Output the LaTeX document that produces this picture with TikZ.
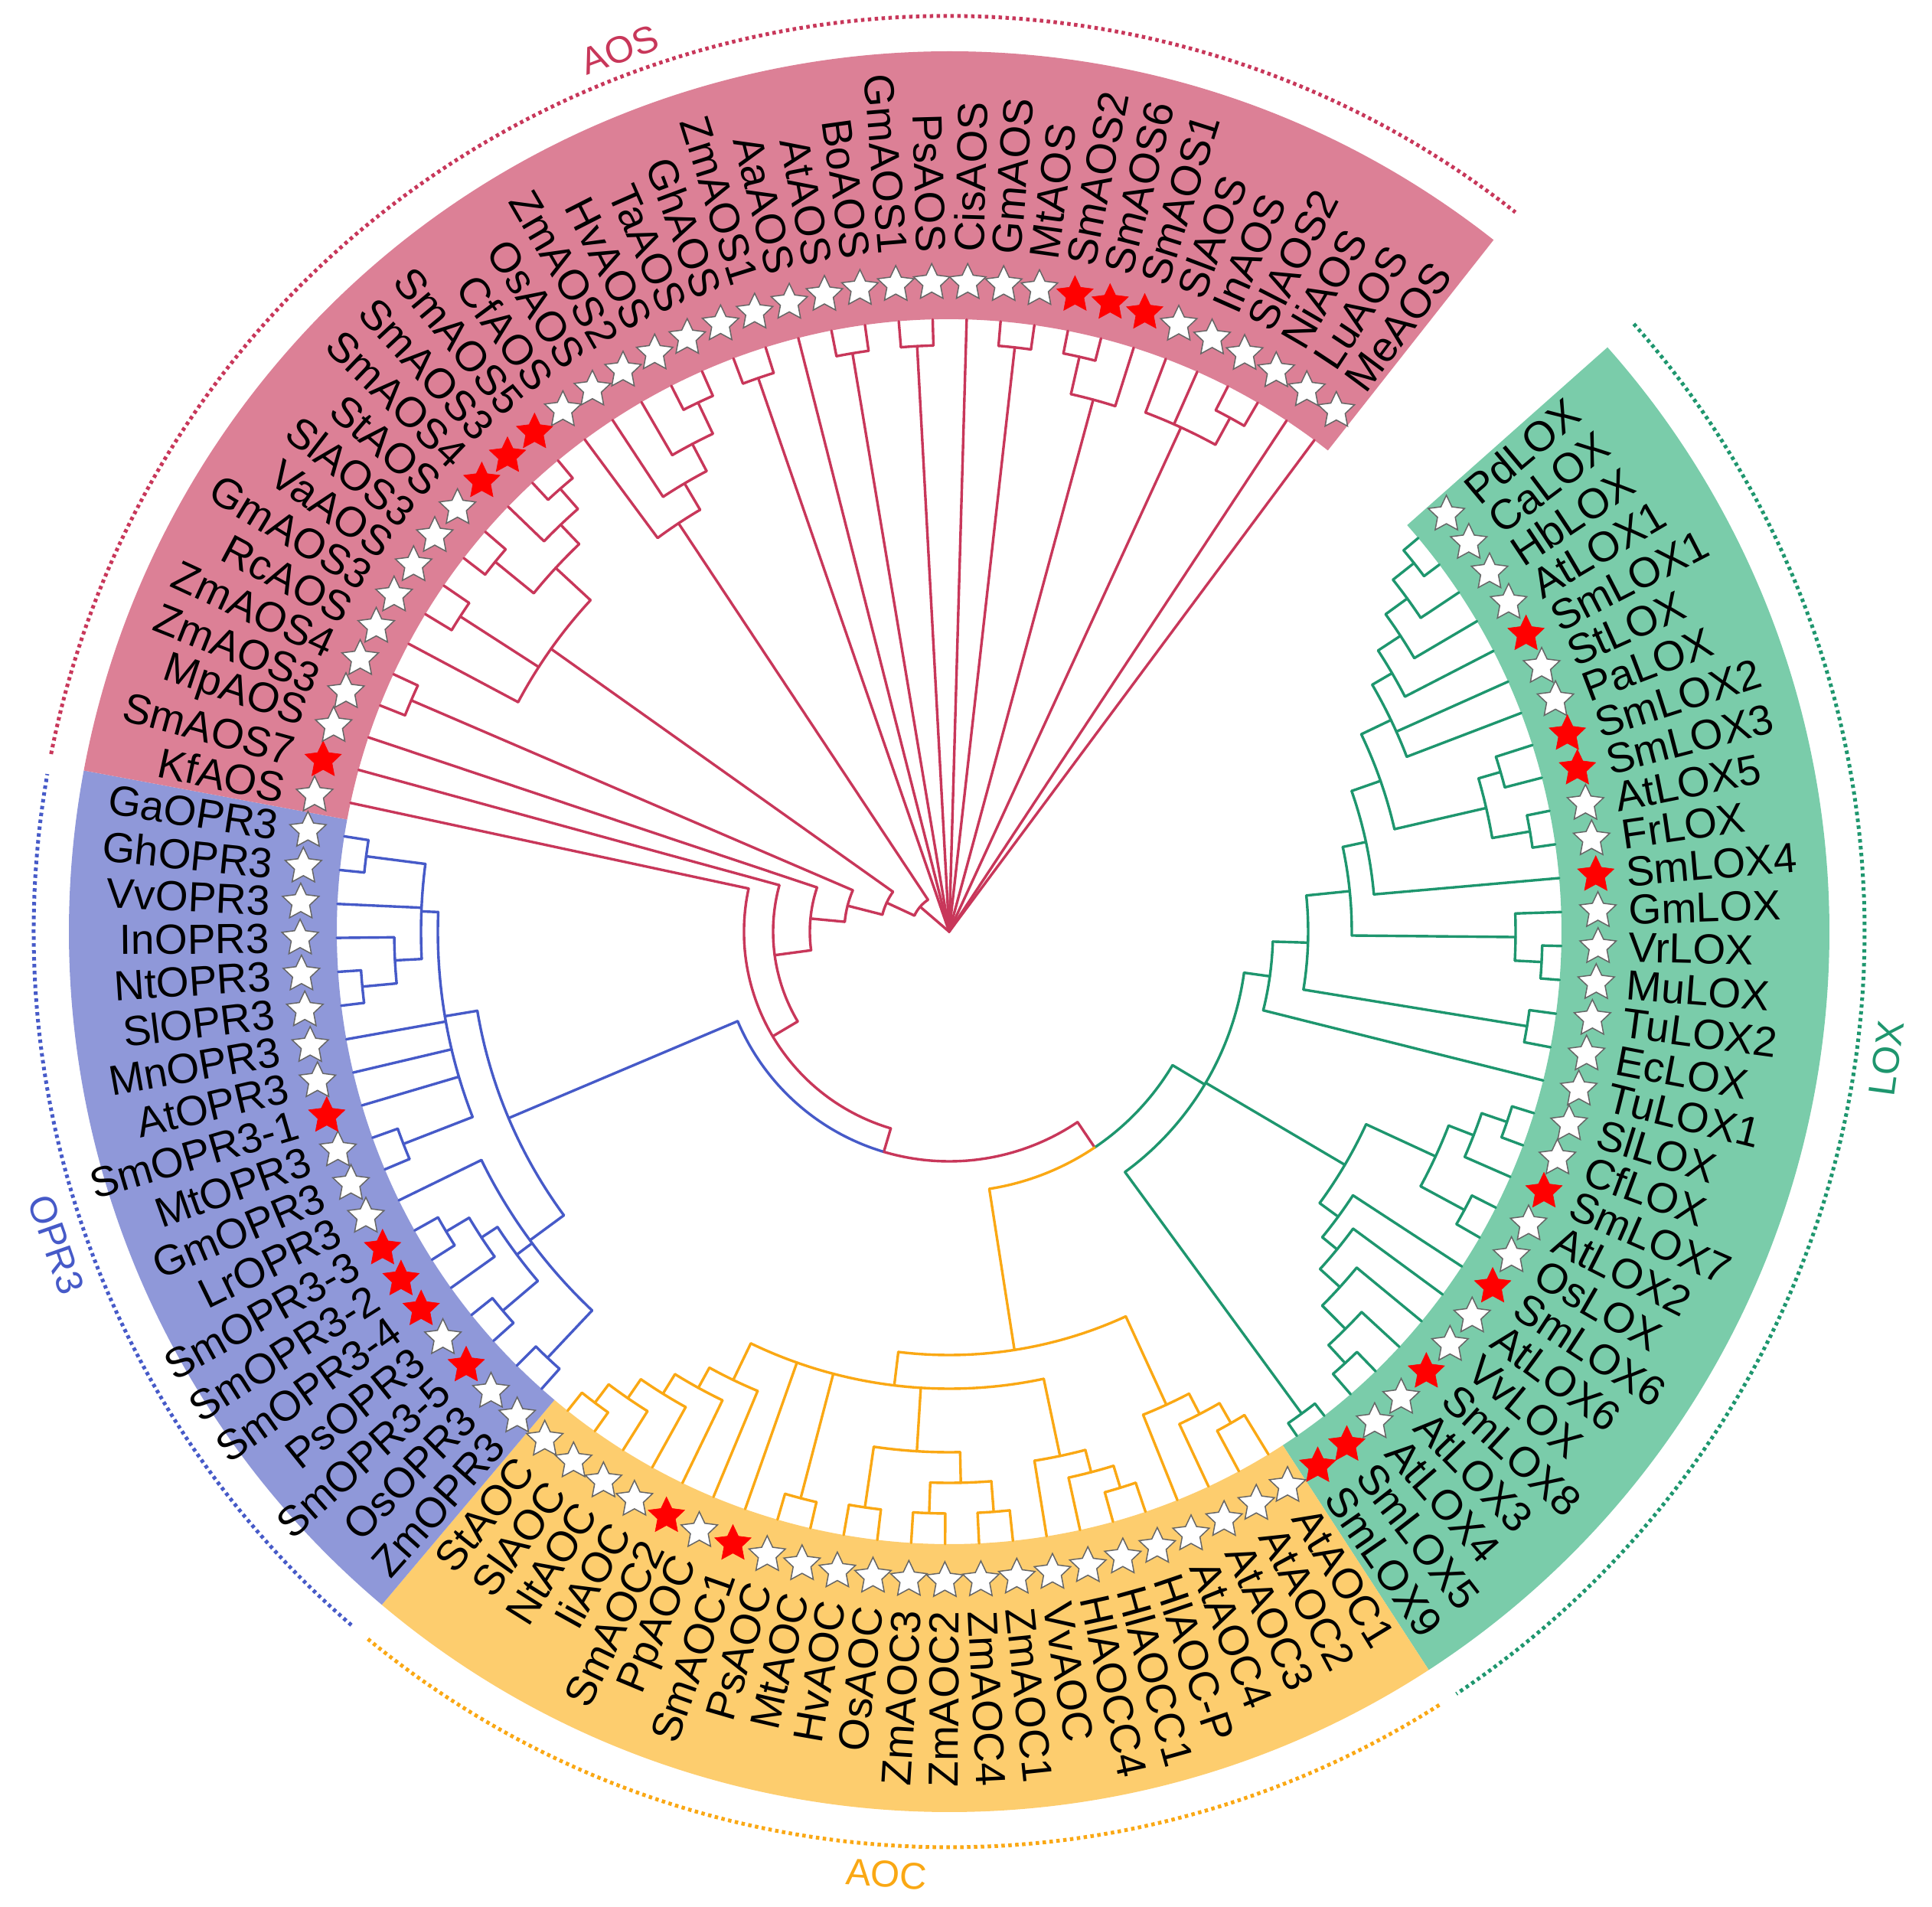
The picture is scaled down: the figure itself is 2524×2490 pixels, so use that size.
\documentclass[tikz,border=0pt]{standalone}
\usepackage{fontspec}
\setmainfont{Liberation Sans}
\usetikzlibrary{shapes.geometric}
\definecolor{cAOS}{RGB}{200,55,90}
\definecolor{cOPR}{RGB}{70,90,200}
\definecolor{cLOX}{RGB}{30,150,110}
\definecolor{cAOC}{RGB}{250,168,20}
\definecolor{wAOS}{RGB}{220,128,150}
\definecolor{wOPR}{RGB}{143,152,217}
\definecolor{wLOX}{RGB}{122,204,170}
\definecolor{wAOC}{RGB}{253,205,110}
\def\AZ{40.0}
\def\DS{3.18}
\newcommand\Rad[4]{\pgfmathsetmacro\rdA{\AZ-\DS*(#2)}\draw[#1] (\rdA:#3pt) -- (\rdA:#4pt);}
\newcommand\Arc[4]{\pgfmathsetmacro\rdA{\AZ-\DS*(#3)}\pgfmathsetmacro\rdB{\AZ-\DS*(#4)}\draw[#1] (\rdA:#2pt) arc[start angle=\rdA, end angle=\rdB, radius=#2pt];}
\newcommand\Nd[5]{\Arc{#1}{#2}{#3}{#4}\foreach \pp/\qq in {#5}{\Rad{#1}{\pp}{#2}{\qq}}}
\newcommand\Wedge[3]{\pgfmathsetmacro\rdA{\AZ-\DS*(#2)}\pgfmathsetmacro\rdB{\AZ-\DS*(#3)}\fill[#1] (\rdA:800pt) arc[start angle=\rdA, end angle=\rdB, radius=800pt] -- (\rdB:1150pt) arc[start angle=\rdB, end angle=\rdA, radius=1150pt] -- cycle;}
\newcommand\Dott[3]{\pgfmathsetmacro\rdA{\AZ-\DS*(#2)}\pgfmathsetmacro\rdB{\AZ-\DS*(#3)}\draw[dotS,#1] (\rdA:1196pt) arc[start angle=\rdA, end angle=\rdB, radius=1196pt];}
\newcommand\Leaf[3]{%
 \pgfmathsetmacro\lfA{\AZ-\DS*(#1)}%
 \pgfmathsetmacro\lfB{\lfA<-180 ? \lfA+360 : \lfA}%
 \pgfmathtruncatemacro\lfS{abs(\lfB)>90 ? 1 : 0}%
 \node[#3] (s#1) at (\lfA:848pt) {};%
 \ifnum\lfS=1
   \pgfmathsetmacro\lfR{\lfB+180}%
   \node[lab, anchor=east, rotate=\lfR] (t#1) at (\lfA:888pt) {#2};%
 \else
   \node[lab, anchor=west, rotate=\lfB] (t#1) at (\lfA:888pt) {#2};%
 \fi}
\begin{document}
\begin{tikzpicture}[x=1pt,y=1pt,
  treeline/.style={line width=3.4pt, line cap=round, line join=round},
  aosT/.style={treeline, draw=cAOS},
  oprT/.style={treeline, draw=cOPR},
  loxT/.style={treeline, draw=cLOX},
  aocT/.style={treeline, draw=cAOC},
  lab/.style={font=\fontsize{55}{60}\selectfont, inner sep=0pt, text=black},
  glab/.style={font=\fontsize{49}{54}\selectfont, inner sep=0pt},
  wstar/.style={star, star points=5, star point ratio=2.05, minimum size=50pt, inner sep=0pt, fill=white, draw=black!60, line width=1.5pt},
  rstar/.style={star, star points=5, star point ratio=2.05, minimum size=50pt, inner sep=0pt, fill=red, draw=red, line width=0.6pt},
  dotS/.style={line width=5pt, dash pattern=on 4.5pt off 4.5pt}]
\useasboundingbox (-1240pt,-1273pt) rectangle (1284pt,1217pt);
% background wedges
\Wedge{wLOX}{-0.5}{30.5}
\Wedge{wAOC}{30.5}{53.5}
\Wedge{wOPR}{53.5}{72.5}
\Wedge{wAOS}{72.5}{109.5}
% ---------------- AOS tree
\foreach \ii/\rr in {81.97/50, 91.5/765, 93/800, 94.5/766, 96.5/766, 98/800, 99.5/768, 102.25/720, 105.25/725, 108/800, 109/800}{\Rad{aosT}{\ii}{0}{\rr}}
\Nd{aosT}{765}{91}{92}{91/800,92/800}
\Nd{aosT}{766}{94}{95}{94/800,95/800}
\Nd{aosT}{766}{96}{97}{96/800,97/800}
\Nd{aosT}{768}{99}{100}{99/800,100/800}
\Nd{aosT}{770}{101}{102}{101/800,102/800}
\Nd{aosT}{720}{101.5}{103}{101.5/770,103/800}
\Nd{aosT}{765}{106}{107}{106/800,107/800}
\Nd{aosT}{725}{104}{106.5}{104/800,105/800,106.5/765}
\Nd{aosT}{765}{89}{90}{89/800,90/800}
\Nd{aosT}{720}{88}{89.5}{88/800,89.5/765}
\Nd{aosT}{680}{87}{88.75}{87/800,88.75/720}
\Nd{aosT}{640}{86}{87.875}{86/800,87.875/680}
\Nd{aosT}{770}{84}{85}{84/800,85/800}
\Nd{aosT}{735}{83}{84.5}{83/800,84.5/770}
\Nd{aosT}{765}{81}{82}{81/800,82/800}
\Nd{aosT}{700}{81.5}{83.75}{81.5/765,83.75/735}
\Nd{aosT}{760}{79}{80}{79/800,80/800}
\Nd{aosT}{638}{78}{82.625}{78/800,79.5/760,82.625/700}
\Nd{aosT}{765}{76}{77}{76/800,77/800}
\Nd{aosT}{50}{77.0}{86.94}{77.0/90,86.94/640}
\Nd{aosT}{90}{73.69}{80.31}{73.69/137,80.31/638}
\Nd{aosT}{137}{70.885}{76.5}{70.885/182,76.5/765}
\Nd{aosT}{182}{66.77}{75}{66.77/230,75/800}
\Nd{aosT}{230}{59.54}{74}{59.54/268,74/800}
\Nd{aosT}{268}{46.08}{73}{46.08/300,73/800}
% backbone
\Arc{oprT}{300}{46.08}{61.97}
\Arc{aosT}{300}{30.19}{46.08}
\Rad{oprT}{61.97}{300}{625}
\Rad{aosT}{30.19}{300}{340}
\Arc{loxT}{340}{22.285}{30.19}
\Arc{aocT}{340}{30.19}{38.09}
\Rad{loxT}{22.285}{340}{389}
\Rad{aocT}{38.09}{340}{553}
% ---------------- OPR3 tree
\Nd{oprT}{625}{57.75}{66.19}{57.75/680,66.19/668}
\Nd{oprT}{680}{54.5}{61}{54.5/765,57.625/705,61/800}
\Nd{oprT}{765}{54}{55}{54/800,55/800}
\Nd{oprT}{765}{56}{57}{56/800,57/800}
\Nd{oprT}{765}{59}{60}{59/800,60/800}
\Nd{oprT}{730}{58}{59.5}{58/800,59.5/765}
\Nd{oprT}{705}{56.5}{58.75}{56.5/765,58.75/730}
\Nd{oprT}{765}{62}{63}{62/800,63/800}
\Nd{oprT}{770}{67}{68}{67/800,68/800}
\Nd{oprT}{725}{67.5}{69}{67.5/770,69/800}
\Nd{oprT}{768}{71}{72}{71/800,72/800}
\Nd{oprT}{690}{68.25}{71.5}{68.25/725,70/800,71.5/768}
\Nd{oprT}{668}{62.5}{69.875}{62.5/765,64/800,65/800,66/800,69.875/690}
% ---------------- AOC tree
\Nd{aocT}{553}{33.125}{43.05}{33.125/680,43.05/597}
\Nd{aocT}{740}{31}{32}{31/800,32/800}
\Nd{aocT}{710}{31.5}{33}{31.5/740,33/800}
\Nd{aocT}{680}{32.25}{34}{32.25/710,34/800}
\Nd{aocT}{597}{37.125}{48.97}{37.125/700,42/680,45.5/765,47/800,48.97/650}
\Nd{aocT}{760}{35}{36}{35/800,36/800}
\Nd{aocT}{730}{35.5}{37}{35.5/760,37/800}
\Nd{aocT}{700}{36.25}{38}{36.25/730,38/800}
\Nd{aocT}{760}{39}{40}{39/800,40/800}
\Nd{aocT}{760}{41}{42}{41/800,42/800}
\Nd{aocT}{720}{39.5}{41.5}{39.5/760,41.5/760}
\Nd{aocT}{760}{43}{44}{43/800,44/800}
\Nd{aocT}{680}{40.5}{43.5}{40.5/720,43.5/760}
\Nd{aocT}{765}{45}{46}{45/800,46/800}
\Nd{aocT}{770}{52}{53}{52/800,53/800}
\Nd{aocT}{740}{51}{52.5}{51/800,52.5/770}
\Nd{aocT}{710}{50}{51.75}{50/800,51.75/740}
\Nd{aocT}{680}{49}{50.875}{49/800,50.875/710}
\Nd{aocT}{650}{48}{49.94}{48/800,49.94/680}
% ---------------- LOX tree
\Nd{loxT}{389}{15.07}{29.5}{15.07/423,22.17/600,29.5/780}
\Nd{loxT}{780}{29}{30}{29/800,30/800}
\Nd{loxT}{600}{20.375}{23.97}{20.375/700,23.97/630}
\Nd{loxT}{770}{18}{19}{18/800,19/800}
\Nd{loxT}{735}{18.5}{20}{18.5/770,20/800}
\Nd{loxT}{765}{21}{22}{21/800,22/800}
\Nd{loxT}{700}{19.25}{21.5}{19.25/735,21.5/765}
\Nd{loxT}{765}{27}{28}{27/800,28/800}
\Nd{loxT}{733}{26}{27.5}{26/800,27.5/765}
\Nd{loxT}{690}{25}{26.75}{25/800,26.75/733}
\Nd{loxT}{655}{24}{25.875}{24/800,25.875/690}
\Nd{loxT}{630}{23}{24.94}{23/800,24.94/655}
\Nd{loxT}{423}{13.13}{17}{13.13/469,17/800}
\Nd{loxT}{469}{10.76}{15.5}{10.76/526,15.5/765}
\Nd{loxT}{765}{15}{16}{15/800,16/800}
\Nd{loxT}{526}{8.76}{12.75}{8.76/557,12.75/740}
\Nd{loxT}{775}{13}{14}{13/800,14/800}
\Nd{loxT}{740}{12}{13.5}{12/800,13.5/775}
\Nd{loxT}{557}{6.52}{11}{6.52/597,11/800}
\Nd{loxT}{597}{4.53}{8.5}{4.53/640,8.5/720}
\Nd{loxT}{720}{7.5}{9.5}{7.5/750,9.5/770}
\Nd{loxT}{750}{7}{8}{7/800,8/800}
\Nd{loxT}{770}{9}{10}{9/800,10/800}
\Nd{loxT}{640}{3.06}{6}{3.06/670,5/800,6/800}
\Nd{loxT}{670}{2.125}{4}{2.125/705,4/800}
\Nd{loxT}{705}{1.25}{3}{1.25/740,3/800}
\Nd{loxT}{740}{0.5}{2}{0.5/775,2/800}
\Nd{loxT}{775}{0}{1}{0/800,1/800}
% ---------------- leaves
\Leaf{0}{PdLOX}{wstar}
\Leaf{1}{CaLOX}{wstar}
\Leaf{2}{HbLOX}{wstar}
\Leaf{3}{AtLOX1}{wstar}
\Leaf{4}{SmLOX1}{rstar}
\Leaf{5}{StLOX}{wstar}
\Leaf{6}{PaLOX}{wstar}
\Leaf{7}{SmLOX2}{rstar}
\Leaf{8}{SmLOX3}{rstar}
\Leaf{9}{AtLOX5}{wstar}
\Leaf{10}{FrLOX}{wstar}
\Leaf{11}{SmLOX4}{rstar}
\Leaf{12}{GmLOX}{wstar}
\Leaf{13}{VrLOX}{wstar}
\Leaf{14}{MuLOX}{wstar}
\Leaf{15}{TuLOX2}{wstar}
\Leaf{16}{EcLOX}{wstar}
\Leaf{17}{TuLOX1}{wstar}
\Leaf{18}{SlLOX}{wstar}
\Leaf{19}{CfLOX}{wstar}
\Leaf{20}{SmLOX7}{rstar}
\Leaf{21}{AtLOX2}{wstar}
\Leaf{22}{OsLOX}{wstar}
\Leaf{23}{SmLOX6}{rstar}
\Leaf{24}{AtLOX6}{wstar}
\Leaf{25}{VvLOX}{wstar}
\Leaf{26}{SmLOX8}{rstar}
\Leaf{27}{AtLOX3}{wstar}
\Leaf{28}{AtLOX4}{wstar}
\Leaf{29}{SmLOX5}{rstar}
\Leaf{30}{SmLOX9}{rstar}
\Leaf{31}{AtAOC1}{wstar}
\Leaf{32}{AtAOC2}{wstar}
\Leaf{33}{AtAOC3}{wstar}
\Leaf{34}{AtAOC4}{wstar}
\Leaf{35}{HlAOC-P}{wstar}
\Leaf{36}{HlAOCC1}{wstar}
\Leaf{37}{HlAOCC4}{wstar}
\Leaf{38}{VvAOC}{wstar}
\Leaf{39}{ZmAOC1}{wstar}
\Leaf{40}{ZmAOC4}{wstar}
\Leaf{41}{ZmAOC2}{wstar}
\Leaf{42}{ZmAOC3}{wstar}
\Leaf{43}{OsAOC}{wstar}
\Leaf{44}{HvAOC}{wstar}
\Leaf{45}{MtAOC}{wstar}
\Leaf{46}{PsAOC}{wstar}
\Leaf{47}{SmAOC1}{rstar}
\Leaf{48}{PpAOC}{wstar}
\Leaf{49}{SmAOC2}{rstar}
\Leaf{50}{IiAOC}{wstar}
\Leaf{51}{NtAOC}{wstar}
\Leaf{52}{SlAOC}{wstar}
\Leaf{53}{StAOC}{wstar}
\Leaf{54}{ZmOPR3}{wstar}
\Leaf{55}{OsOPR3}{wstar}
\Leaf{56}{SmOPR3-5}{rstar}
\Leaf{57}{PsOPR3}{wstar}
\Leaf{58}{SmOPR3-4}{rstar}
\Leaf{59}{SmOPR3-2}{rstar}
\Leaf{60}{SmOPR3-3}{rstar}
\Leaf{61}{LrOPR3}{wstar}
\Leaf{62}{GmOPR3}{wstar}
\Leaf{63}{MtOPR3}{wstar}
\Leaf{64}{SmOPR3-1}{rstar}
\Leaf{65}{AtOPR3}{wstar}
\Leaf{66}{MnOPR3}{wstar}
\Leaf{67}{SlOPR3}{wstar}
\Leaf{68}{NtOPR3}{wstar}
\Leaf{69}{InOPR3}{wstar}
\Leaf{70}{VvOPR3}{wstar}
\Leaf{71}{GhOPR3}{wstar}
\Leaf{72}{GaOPR3}{wstar}
\Leaf{73}{KfAOS}{wstar}
\Leaf{74}{SmAOS7}{rstar}
\Leaf{75}{MpAOS}{wstar}
\Leaf{76}{ZmAOS3}{wstar}
\Leaf{77}{ZmAOS4}{wstar}
\Leaf{78}{RcAOS}{wstar}
\Leaf{79}{GmAOS3}{wstar}
\Leaf{80}{VaAOS}{wstar}
\Leaf{81}{SlAOS3}{wstar}
\Leaf{82}{StAOS}{wstar}
\Leaf{83}{SmAOS4}{rstar}
\Leaf{84}{SmAOS3}{rstar}
\Leaf{85}{SmAOS5}{rstar}
\Leaf{86}{CfAOS}{wstar}
\Leaf{87}{OsAOS}{wstar}
\Leaf{88}{ZmAOS2}{wstar}
\Leaf{89}{HvAOS}{wstar}
\Leaf{90}{TaAOS}{wstar}
\Leaf{91}{GhAOS}{wstar}
\Leaf{92}{ZmAOS1}{wstar}
\Leaf{93}{AaAOS}{wstar}
\Leaf{94}{AtAOS}{wstar}
\Leaf{95}{BoAOS}{wstar}
\Leaf{96}{GmAOS1}{wstar}
\Leaf{97}{PsAOS}{wstar}
\Leaf{98}{CisAOS}{wstar}
\Leaf{99}{GmAOS}{wstar}
\Leaf{100}{MtAOS}{wstar}
\Leaf{101}{SmAOS2}{rstar}
\Leaf{102}{SmAOS6}{rstar}
\Leaf{103}{SmAOS1}{rstar}
\Leaf{104}{SlAOS}{wstar}
\Leaf{105}{InAOS}{wstar}
\Leaf{106}{SlAOS2}{wstar}
\Leaf{107}{NiAOS}{wstar}
\Leaf{108}{LuAOS}{wstar}
\Leaf{109}{MeAOS}{wstar}
% ---------------- dotted group arcs and labels
\Dott{cLOX}{-0.5}{30.3}
\Dott{cAOC}{30.7}{53.3}
\Dott{cOPR}{53.7}{72.3}
\Dott{cAOS}{72.7}{109.5}
\node[glab, text=cAOS, rotate=20.5] (gAOS) at (110.5:1230pt) {AOS};
\node[glab, text=cLOX, rotate=82.3] (gLOX) at (-7.7:1236pt) {LOX};
\node[glab, text=cAOC, rotate=-3.8] (gAOC) at (-93.8:1234pt) {AOC};
\node[glab, text=cOPR, rotate=-70.7] (gOPR) at (-160.7:1236pt) {OPR3};
\end{tikzpicture}
\end{document}
